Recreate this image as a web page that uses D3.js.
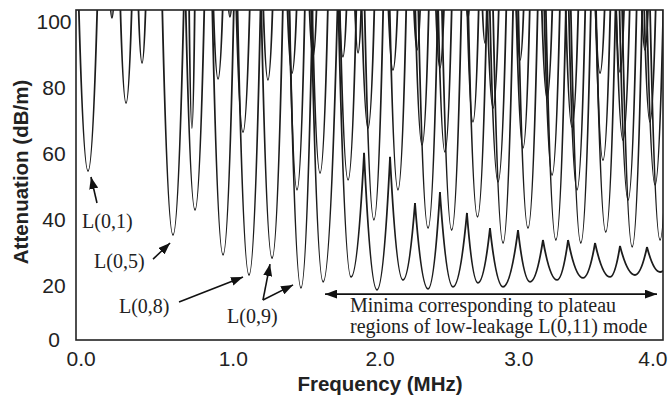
<!DOCTYPE html>
<html>
<head>
<meta charset="utf-8">
<script src="https://cdn.jsdelivr.net/npm/d3@7"></script>
<style>
body { margin: 0; background: #fff; }
svg { display: block; }
.axis text { font-family: "Liberation Sans", Arial, sans-serif; font-size: 21px; fill: #222; }
.axis-title { font-family: "Liberation Sans", Arial, sans-serif; font-size: 20.5px; font-weight: bold; fill: #222; }
.note { font-family: "Liberation Serif", "Times New Roman", serif; font-size: 20px; fill: #222; }
</style>
</head>
<body>
<svg width="669" height="399"></svg>
<script>
const xTicks = [0, 1, 2, 3, 4];
const yTicks = [0, 20, 40, 60, 80, 100];

// low-leakage L(0,11) curve, alternating maxima and minima [MHz, dB/m]
const modeL011 = [
    [1.600, 106], [1.684, 17.6], [1.785, 106], [1.874, 19.1],
    [1.963, 56.7], [2.051, 15.2], [2.140, 55.5], [2.228, 18.2],
    [2.310, 41.5], [2.399, 15.5], [2.480, 44.8], [2.569, 16.1],
    [2.664, 38.5], [2.739, 17.3], [2.821, 33.9], [2.910, 16.1],
    [3.012, 33.3], [3.094, 17.6], [3.182, 30.3], [3.278, 18.2],
    [3.353, 30.3], [3.455, 18.8], [3.537, 29.4], [3.639, 19.1],
    [3.707, 28.5], [3.809, 19.7], [3.891, 28.2], [3.980, 20.6],
    [4.070, 28.0]
];

// single dips: [centre MHz, minimum dB/m, half width at top MHz]
const labelledDips = [
    [0.082, 51.2, 0.065], [0.661, 31.8, 0.075], [0.811, 39.4, 0.065],
    [1.002, 25.8, 0.075], [1.179, 19.7, 0.080], [1.336, 24.8, 0.075],
    [1.533, 15.8, 0.080]
];
const dipsRowB = [
    [2.030, 36.4, 0.065], [2.399, 33.9, 0.068], [2.560, 33.3, 0.068],
    [2.736, 37.3, 0.065], [2.910, 29.4, 0.070], [3.080, 33.9, 0.068],
    [3.270, 30.3, 0.070], [3.440, 29.4, 0.070], [3.610, 32.7, 0.068],
    [3.790, 28.2, 0.070], [3.980, 30.3, 0.070]
];
const dipsRowC = [
    [1.506, 45.5, 0.055], [1.663, 50.6, 0.055], [1.854, 48.5, 0.058],
    [2.194, 45.5, 0.058], [2.876, 47.9, 0.058], [3.244, 50.0, 0.055],
    [3.414, 45.5, 0.058], [3.591, 54.5, 0.052], [3.762, 42.4, 0.060],
    [3.946, 47.0, 0.058]
];
const dipsRowD = [
    [0.790, 64.2, 0.020], [1.138, 63.0, 0.048], [1.990, 64.2, 0.045],
    [2.358, 59.1, 0.048], [2.514, 57.0, 0.048], [2.705, 66.1, 0.041],
    [3.046, 58.2, 0.048], [3.380, 64.5, 0.045], [3.727, 60.6, 0.048],
    [3.911, 66.1, 0.041]
];
const dipsShallow = [
    [0.245, 97.6, 0.014], [0.341, 71.8, 0.041], [0.450, 83.9, 0.027],
    [0.968, 79.1, 0.034], [1.049, 97.9, 0.014], [1.308, 78.8, 0.034],
    [1.472, 80.9, 0.034], [1.615, 85.8, 0.027], [1.819, 85.8, 0.027],
    [1.922, 87.0, 0.024], [2.160, 81.8, 0.034], [2.324, 87.9, 0.024],
    [2.480, 82.4, 0.030], [2.671, 97.5, 0.012], [2.787, 90.0, 0.020],
    [2.842, 70.3, 0.041], [3.026, 84.8, 0.027], [3.210, 73.3, 0.038],
    [3.571, 80.9, 0.034], [3.707, 81.2, 0.030], [3.877, 87.9, 0.024]
];

// annotations, in data units
const modeLabels = [
    { text: "L(0,1)", at: [0.041, 33.9] },
    { text: "L(0,5)", at: [0.123, 21.8] },
    { text: "L(0,8)", at: [0.293, 8.2] },
    { text: "L(0,9)", at: [1.029, 5.2] }
];
const arrows = [
    { from: [0.143, 41.5], to: [0.102, 49.4] },
    { from: [0.525, 24.5], to: [0.641, 29.4] },
    { from: [0.702, 11.5], to: [1.138, 19.1] },
    { from: [1.274, 12.1], to: [1.322, 23.0] },
    { from: [1.274, 12.1], to: [1.479, 16.7] }
];
const rangeArrow = { from: [1.697, 13.9], to: [3.959, 13.9] };
const rangeText = ["Minima corresponding to plateau", "regions of low-leakage L(0,11) mode"];

const svg = d3.select("svg"),
    margin = { top: 10, right: 6, bottom: 59, left: 76 },
    width = +svg.attr("width") - margin.left - margin.right,
    height = +svg.attr("height") - margin.top - margin.bottom,
    g = svg.append("g").attr("transform", `translate(${margin.left},${margin.top})`);

const x = d3.scaleLinear().domain([0, 4]).range([0, width]),
    y = d3.scaleLinear().domain([0, 100]).range([height, 0]);

const TOP = 104; // single dips run off the top of the frame

const defs = svg.append("defs");
defs.append("clipPath").attr("id", "plot")
    .append("rect").attr("width", width).attr("height", height);
defs.append("marker")
    .attr("id", "head")
    .attr("viewBox", "0 0 10 10")
    .attr("refX", 10).attr("refY", 5)
    .attr("markerWidth", 12).attr("markerHeight", 9)
    .attr("markerUnits", "userSpaceOnUse")
    .attr("preserveAspectRatio", "none")
    .attr("orient", "auto-start-reverse")
    .append("path").attr("d", "M0,0L10,5L0,10Z").attr("fill", "#111");

// one dip: half parabolas from the left shoulder down to the minimum and back up
function dipPath(left, bottom, right) {
    const x0 = x(left[0]), y0 = y(left[1]),
        xb = x(bottom[0]), yb = y(bottom[1]),
        x1 = x(right[0]), y1 = y(right[1]);
    const p = d3.path();
    p.moveTo(x0, y0);
    p.quadraticCurveTo((x0 + xb) / 2, yb, xb, yb);
    p.quadraticCurveTo((xb + x1) / 2, yb, x1, y1);
    return p.toString();
}

const curves = g.append("g").attr("clip-path", "url(#plot)")
    .attr("fill", "none").attr("stroke", "#1c1c1c").attr("stroke-width", 1.8);

// each dip of the L(0,11) curve runs from one maximum to the next
const l011Segments = d3.range(0, modeL011.length - 2, 2)
    .map(i => modeL011.slice(i, i + 3));
curves.selectAll(".l011")
    .data(l011Segments)
    .enter().append("path")
    .attr("class", "l011")
    .attr("d", d => dipPath(d[0], d[1], d[2]));

const allDips = [].concat(labelledDips, dipsRowB, dipsRowC, dipsRowD, dipsShallow);
curves.selectAll(".dip")
    .data(allDips)
    .enter().append("path")
    .attr("class", "dip")
    .attr("d", d => dipPath([d[0] - d[2], TOP], [d[0], d[1]], [d[0] + d[2], TOP]));

// axes
const xAxis = g.append("g")
    .attr("class", "axis")
    .attr("transform", `translate(0,${height})`)
    .call(d3.axisBottom(x).tickValues(xTicks).tickFormat(d3.format(".1f")).tickSize(0).tickPadding(11));
xAxis.select(".domain").remove();
xAxis.selectAll("text")
    .attr("text-anchor", d => d === 0 ? "start" : d === 4 ? "end" : "middle")
    .attr("dx", d => d === 0 ? -10 : d === 4 ? 4 : d === 3 ? 2 : 10);

const yAxis = g.append("g")
    .attr("class", "axis")
    .call(d3.axisLeft(y).tickValues(yTicks).tickSize(0));
yAxis.select(".domain").remove();
yAxis.selectAll("text")
    .attr("text-anchor", "middle")
    .attr("x", -22)
    .attr("y", d => d === 0 ? 0 : 12);

// frame
g.append("rect")
    .attr("width", width).attr("height", height)
    .attr("fill", "none").attr("stroke", "#222").attr("stroke-width", 1.6);

svg.append("text")
    .attr("class", "axis-title")
    .attr("x", 380).attr("y", 391)
    .attr("text-anchor", "middle")
    .text("Frequency (MHz)");

svg.append("text")
    .attr("class", "axis-title")
    .attr("transform", "translate(28,172) rotate(-90)")
    .attr("text-anchor", "middle")
    .text("Attenuation (dB/m)");

// annotations
const notes = g.append("g");
notes.selectAll(".mode-label")
    .data(modeLabels)
    .enter().append("text")
    .attr("class", "note mode-label")
    .attr("x", d => x(d.at[0]))
    .attr("y", d => y(d.at[1]))
    .text(d => d.text);

notes.selectAll(".arrow")
    .data(arrows)
    .enter().append("line")
    .attr("class", "arrow")
    .attr("x1", d => x(d.from[0])).attr("y1", d => y(d.from[1]))
    .attr("x2", d => x(d.to[0])).attr("y2", d => y(d.to[1]))
    .attr("stroke", "#111").attr("stroke-width", 1.6)
    .attr("marker-end", "url(#head)");

notes.append("line")
    .attr("x1", x(rangeArrow.from[0])).attr("y1", y(rangeArrow.from[1]))
    .attr("x2", x(rangeArrow.to[0])).attr("y2", y(rangeArrow.to[1]))
    .attr("stroke", "#111").attr("stroke-width", 1.6)
    .attr("marker-start", "url(#head)")
    .attr("marker-end", "url(#head)");

notes.selectAll(".range-text")
    .data(rangeText)
    .enter().append("text")
    .attr("class", "note range-text")
    .attr("x", x(1.867))
    .attr("y", (d, i) => y(8.5) + i * 21)
    .text(d => d);
</script>
</body>
</html>
